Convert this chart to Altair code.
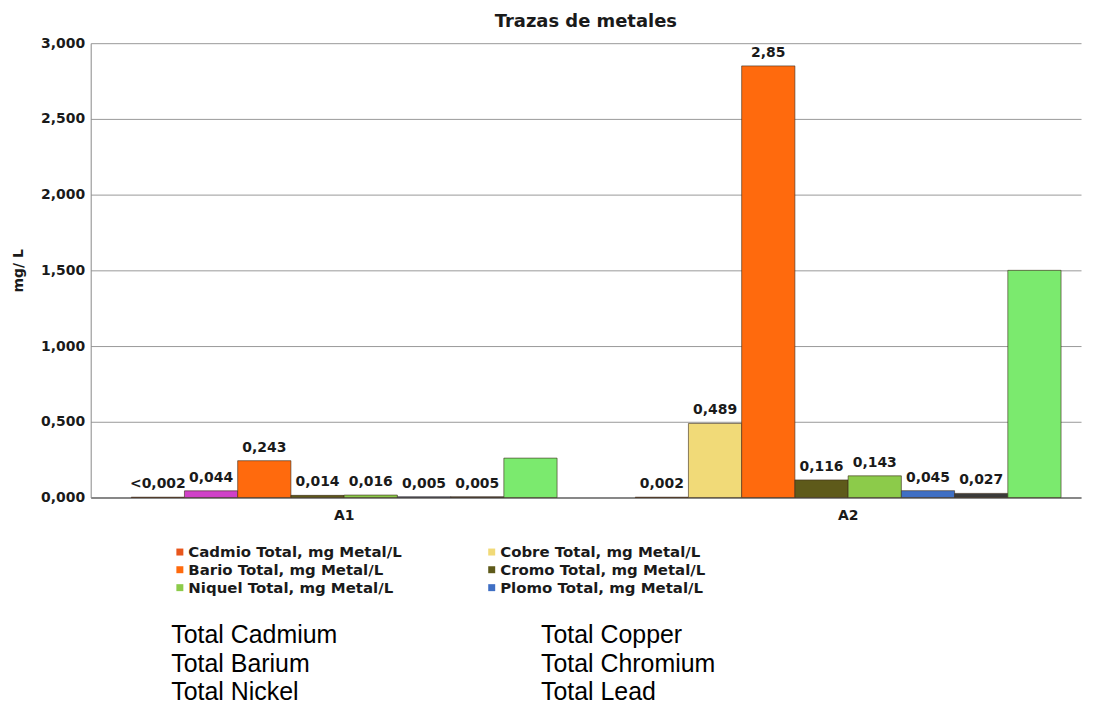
import altair as alt
import pandas as pd

# ---- data ----
categories = ["A1", "A2"]
series = [
    "Cadmio Total, mg Metal/L",
    "Cobre Total, mg Metal/L",
    "Bario Total, mg Metal/L",
    "Cromo Total, mg Metal/L",
    "Niquel Total, mg Metal/L",
    "Plomo Total, mg Metal/L",
    "Serie 7",
    "Serie 8",
]
# legend fills column by column: left column first, then right column
legend_order = [
    "Cadmio Total, mg Metal/L",
    "Bario Total, mg Metal/L",
    "Niquel Total, mg Metal/L",
    "Cobre Total, mg Metal/L",
    "Cromo Total, mg Metal/L",
    "Plomo Total, mg Metal/L",
]
a1_values = [0.002, 0.044, 0.243, 0.014, 0.016, 0.005, 0.005, 0.26]
a2_values = [0.002, 0.489, 2.85, 0.116, 0.143, 0.045, 0.027, 1.50]
a1_labels = ["<0,002", "0,044", "0,243", "0,014", "0,016", "0,005", "0,005", ""]
a2_labels = ["0,002", "0,489", "2,85", "0,116", "0,143", "0,045", "0,027", ""]
series_colors = ["#E8561C", "#F1DA78", "#FF6A0D", "#5E5A1A",
                 "#8CCB4A", "#3F6FC4", "#3A3A3A", "#7BEA6E"]
eng_col1 = ["Total Cadmium", "Total Barium", "Total Nickel"]
eng_col2 = ["Total Copper", "Total Chromium", "Total Lead"]
y_ticks = [0, 0.5, 1.0, 1.5, 2.0, 2.5, 3.0]

rows = []
for cat, vals, labs in [("A1", a1_values, a1_labels), ("A2", a2_values, a2_labels)]:
    for s, v, l in zip(series, vals, labs):
        rows.append({"cat": cat, "series": s, "value": v, "label": l})
df = pd.DataFrame(rows)

eng_rows = []
for ci, col in enumerate([eng_col1, eng_col2]):
    for ri, t in enumerate(col):
        eng_rows.append({"col": ci, "row": ri, "text": t})
eng = pd.DataFrame(eng_rows)

BOLD = "DejaVu Sans"

x_enc = alt.X("cat:N", sort=categories,
              scale=alt.Scale(paddingInner=0.155, paddingOuter=0.06, align=0.67),
              axis=alt.Axis(title=None, labelAngle=0, labelFont=BOLD, labelFontWeight="bold",
                            labelFontSize=14, labelColor="#1a1a1a", ticks=False,
                            labelPadding=11, domainColor="#444", domainWidth=1.2))
xo_enc = alt.XOffset("series:N", sort=series,
                     scale=alt.Scale(domain=series, paddingInner=0, paddingOuter=0))
y_enc = alt.Y("value:Q", scale=alt.Scale(domain=[0, 3], nice=False),
              axis=alt.Axis(values=y_ticks, title="mg/ L", titleFont=BOLD, titleFontSize=14,
                            titleFontWeight="bold", titleColor="#1a1a1a", titlePadding=15,
                            labelExpr="replace(format(datum.value, '.3f'), '.', ',')",
                            labelFont=BOLD, labelFontWeight="bold", labelFontSize=14,
                            labelColor="#1a1a1a", labelPadding=6, ticks=False,
                            grid=True, gridColor="#9a9a9a", gridWidth=1,
                            domainColor="#8a8a8a"))

color_enc = alt.condition(
    "datum.cat == 'A1' && datum.series == 'Cobre Total, mg Metal/L'",
    alt.value("#D040C8"),
    alt.Color("series:N", scale=alt.Scale(domain=series, range=series_colors),
              legend=alt.Legend(values=legend_order, title=None, orient="none",
                                legendX=82, legendY=503, columns=2, columnPadding=82,
                                rowPadding=2, symbolType="square", symbolSize=49,
                                symbolStrokeWidth=0, labelFont=BOLD, labelFontWeight="bold",
                                labelFontSize=15, labelColor="#1a1a1a", labelOffset=1,
                                labelLimit=400)),
)

bars = alt.Chart(df).mark_bar(stroke="#3a2a1a", strokeWidth=0.6).encode(
    x=x_enc, xOffset=xo_enc, y=y_enc, color=color_enc
)
labels = alt.Chart(df).mark_text(baseline="bottom", dy=-6, font=BOLD, fontWeight="bold",
                                 fontSize=14, color="#1a1a1a").encode(
    x=x_enc, xOffset=xo_enc, y=y_enc, text="label:N"
)

main = alt.layer(bars, labels).properties(
    width=994, height=456,
    title=alt.TitleParams("Trazas de metales", font=BOLD, fontSize=18, fontWeight="bold",
                          color="#1a1a1a", anchor="middle", frame="group", offset=5),
)

eng_chart = alt.Chart(eng).mark_text(align="left", baseline="middle", font="Liberation Sans",
                                     fontSize=25, color="#000000").encode(
    x=alt.X("col:N", bandPosition=0, axis=None,
            scale=alt.Scale(type="band", paddingInner=0, paddingOuter=0.218)),
    y=alt.Y("row:N", axis=None,
            scale=alt.Scale(type="band", paddingInner=0, paddingOuter=0)),
    text="text:N",
).properties(width=904, height=86)

chart = alt.vconcat(main, eng_chart, spacing=99).properties(
    padding={"left": 3, "top": 4, "right": 5, "bottom": 5},
    background="white",
).configure_view(stroke="transparent", strokeWidth=0)

chart.save("out.html", embed_options={"renderer": "svg", "actions": False})
